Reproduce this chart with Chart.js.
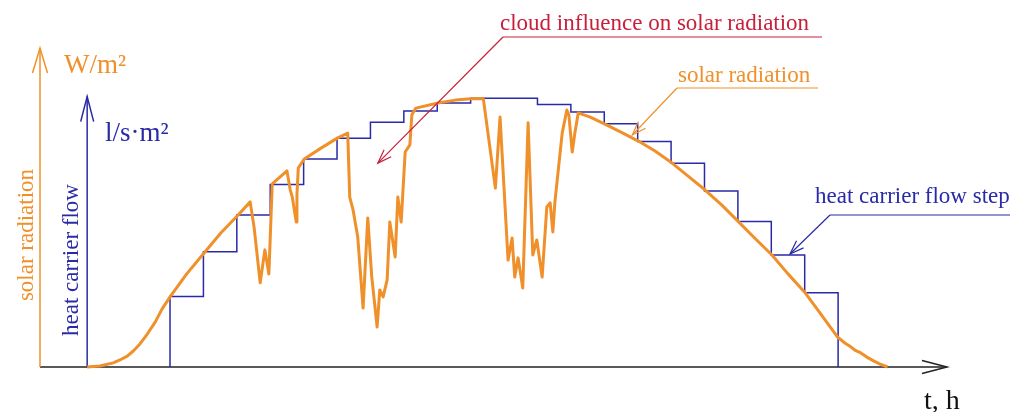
<!DOCTYPE html>
<html>
<head>
<meta charset="utf-8">
<script src="https://cdn.jsdelivr.net/npm/chart.js@4.4.1/dist/chart.umd.min.js"></script>
<style>
  html, body { margin: 0; padding: 0; background: #fff; }
  #wrap { width: 1015px; height: 412px; position: relative; }
</style>
</head>
<body>
<div id="wrap"><canvas id="solarChart"></canvas></div>
<script>
// time of day, h
const times = [5.76, 5.95, 6.15, 6.25, 6.36, 6.45, 6.55, 6.66, 6.78, 6.88, 7.00, 7.25, 7.51, 7.76, 8.02, 8.20,
  8.26, 8.35, 8.42, 8.48, 8.53, 8.75,
  8.80, 8.83, 8.86, 8.89, 8.90, 8.92, 9.01, 9.26, 9.51, 9.66,
  9.69, 9.74, 9.81, 9.89, 9.96, 10.02, 10.10, 10.14, 10.19, 10.25, 10.29, 10.37, 10.41, 10.46,
  10.52, 10.59, 10.62, 10.68, 11.01, 11.27, 11.51, 11.69,
  11.87, 11.94, 12.06, 12.12, 12.16, 12.21, 12.28, 12.36, 12.43, 12.49, 12.57, 12.64, 12.69,
  12.73, 12.76, 12.87, 12.94, 12.97, 13.02, 13.06, 13.11,
  13.29, 13.51, 13.75, 14.01, 14.26, 14.51, 14.75, 15.01, 15.26, 15.50, 15.75, 16.01, 16.25,
  16.51, 16.75, 16.99, 17.10, 17.19, 17.25, 17.34, 17.43, 17.53, 17.63, 17.74];
// solar radiation, W/m2 (with cloud dips)
const radiation = [0, 3, 13, 22, 34, 50, 72, 103, 141, 181, 219, 291, 356, 419, 475, 516,
  434, 263, 366, 291, 572, 613,
  553, 531, 491, 453, 538, 622, 650, 684, 716, 731,
  531, 491, 406, 184, 466, 281, 125, 241, 219, 272, 453, 344, 531, 453,
  672, 694, 788, 809, 825, 834, 838, 838,
  559, 781, 334, 403, 281, 341, 247, 763, 350, 397, 281, 500, 513,
  422, 513, 731, 803, 788, 672, 731, 794,
  781, 759, 734, 706, 675, 638, 597, 553, 506, 456, 403, 350, 291,
  231, 163, 94, 75, 63, 53, 44, 31, 19, 9, 0];

// heat carrier flow steps, l/s·m2 (start time of each step)
const stepStarts = [7.0, 7.5, 8.0, 8.5, 9.0, 9.5, 10.0, 10.5, 11.0, 11.5,
  12.0, 12.5, 13.0, 13.5, 14.0, 14.5, 15.0, 15.5, 16.0, 16.5];
const stepEnd = 17.0;
const flow = [0.22, 0.36, 0.475, 0.57, 0.65, 0.715, 0.765, 0.80, 0.825, 0.84,
  0.84, 0.82, 0.797, 0.76, 0.705, 0.637, 0.55, 0.455, 0.35, 0.232];

const sunrise = 5.76;
const flowAxisTop = 0.845;

const ORANGE = '#f0902a';
const BLUE = '#2a2aa8';
const RED = '#c8203a';

const flowPoints = [{ x: stepStarts[0], y: 0 }];
stepStarts.forEach((t, i) => flowPoints.push({ x: t, y: flow[i] }));
flowPoints.push({ x: stepEnd, y: 0 });

function openArrow(ctx, x0, y0, x1, y1, len, half) {
  ctx.beginPath();
  ctx.moveTo(x0, y0);
  ctx.lineTo(x1, y1);
  ctx.stroke();
  const a = Math.atan2(y1 - y0, x1 - x0);
  const bx = x1 - Math.cos(a) * len, by = y1 - Math.sin(a) * len;
  const nx = -Math.sin(a) * half, ny = Math.cos(a) * half;
  ctx.beginPath();
  ctx.moveTo(bx + nx, by + ny);
  ctx.lineTo(x1, y1);
  ctx.lineTo(bx - nx, by - ny);
  ctx.stroke();
}

const sketchPlugin = {
  id: 'sketch',
  beforeDatasetsDraw(chart) {
    const { ctx, chartArea } = chart;
    const x = chart.scales.x, y = chart.scales.y, yf = chart.scales.yFlow;
    const base = y.getPixelForValue(0);
    ctx.save();
    ctx.lineWidth = 1.5;
    // time axis
    ctx.strokeStyle = '#222';
    openArrow(ctx, chartArea.left, base, chartArea.right + 2, base, 25, 6.5);
    // radiation axis
    ctx.strokeStyle = ORANGE;
    openArrow(ctx, chartArea.left, base, chartArea.left, y.getPixelForValue(y.max) + 1, 25, 7.5);
    // flow axis
    ctx.strokeStyle = BLUE;
    const bx = x.getPixelForValue(sunrise);
    openArrow(ctx, bx, base, bx, yf.getPixelForValue(flowAxisTop), 25, 6.5);
    ctx.restore();
  },
  afterDraw(chart) {
    const { ctx } = chart;
    const x = chart.scales.x, y = chart.scales.y;
    ctx.save();
    ctx.textBaseline = 'alphabetic';

    // axis units
    ctx.font = '27px "Liberation Serif"';
    ctx.fillStyle = ORANGE;
    ctx.fillText('W/m²', 64, 73);
    ctx.fillStyle = BLUE;
    ctx.fillText('l/s·m²', 105, 141);
    ctx.fillStyle = '#111';
    ctx.font = '28px "Liberation Serif"';
    ctx.fillText('t, h', 924, 409);

    // rotated axis titles
    ctx.font = '23px "Liberation Serif"';
    ctx.textAlign = 'center';
    ctx.save();
    ctx.translate(33, 235);
    ctx.rotate(-Math.PI / 2);
    ctx.fillStyle = ORANGE;
    ctx.fillText('solar radiation', 0, 0);
    ctx.restore();
    ctx.save();
    ctx.translate(78, 260);
    ctx.rotate(-Math.PI / 2);
    ctx.fillStyle = BLUE;
    ctx.fillText('heat carrier flow', 0, 0);
    ctx.restore();
    ctx.textAlign = 'left';

    // callouts
    ctx.lineWidth = 1.2;
    ctx.font = '23px "Liberation Serif"';

    ctx.fillStyle = RED;
    ctx.strokeStyle = RED;
    ctx.fillText('cloud influence on solar radiation', 500, 30);
    ctx.beginPath();
    ctx.moveTo(503, 37); ctx.lineTo(822, 37); ctx.stroke();
    openArrow(ctx, 503, 37, x.getPixelForValue(10.11), y.getPixelForValue(637), 14, 5);

    ctx.fillStyle = ORANGE;
    ctx.strokeStyle = ORANGE;
    ctx.fillText('solar radiation', 678, 82);
    ctx.beginPath();
    ctx.moveTo(677, 88); ctx.lineTo(818, 88); ctx.stroke();
    openArrow(ctx, 677, 88, x.getPixelForValue(13.92), y.getPixelForValue(725), 14, 5);

    ctx.fillStyle = BLUE;
    ctx.strokeStyle = BLUE;
    ctx.fillText('heat carrier flow step', 815, 203);
    ctx.beginPath();
    ctx.moveTo(830, 215); ctx.lineTo(1010, 215); ctx.stroke();
    openArrow(ctx, 830, 215, x.getPixelForValue(16.28), y.getPixelForValue(353), 14, 5);

    ctx.restore();
  }
};

new Chart(document.getElementById('solarChart'), {
  type: 'line',
  data: {
    datasets: [{
      label: 'solar radiation',
      data: times.map((t, i) => ({ x: t, y: radiation[i] })),
      borderColor: ORANGE,
      borderWidth: 3,
      pointRadius: 0,
      tension: 0,
      borderJoinStyle: 'round',
      yAxisID: 'y',
      clip: false
    }, {
      label: 'heat carrier flow step',
      data: flowPoints,
      borderColor: BLUE,
      borderWidth: 1.5,
      pointRadius: 0,
      stepped: 'before',
      yAxisID: 'yFlow',
      clip: false
    }]
  },
  options: {
    responsive: true,
    maintainAspectRatio: false,
    animation: false,
    layout: { padding: { left: 40, right: 70, top: 47, bottom: 45 } },
    scales: {
      x: { type: 'linear', min: 5.054, max: 18.6, display: false },
      y: { min: 0, max: 1000, display: false },
      yFlow: { min: 0, max: 1, display: false }
    },
    plugins: {
      legend: { display: false },
      tooltip: { enabled: false }
    }
  },
  plugins: [sketchPlugin]
});
</script>
</body>
</html>
